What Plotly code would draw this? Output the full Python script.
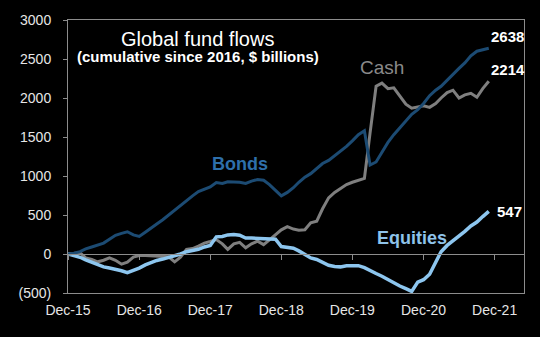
import plotly.graph_objects as go
import pandas as pd

dates = pd.date_range("2015-12-01", periods=72, freq="MS")

bonds = [0, 10, 30, 65, 90, 110, 140, 190, 240, 265, 285, 245,
         225, 280, 330, 385, 440, 500, 570, 630, 690, 745, 800, 835,
         860, 915, 905, 925, 920, 920, 905, 935, 955, 945, 890, 815,
         745, 790, 850, 920, 985, 1030, 1090, 1160, 1200, 1260, 1320, 1380,
         1450, 1530, 1580, 1140, 1180, 1300, 1430, 1530, 1620, 1700, 1790, 1850,
         1930, 2030, 2100, 2150, 2230, 2300, 2380, 2450, 2540, 2600, 2620, 2638]

equities = [0, -20, -42, -75, -105, -140, -165, -180, -195, -215, -240, -215,
            -180, -140, -105, -83, -65, -45, -20, 0, 30, 45, 60, 90,
            110, 220, 225, 245, 250, 240, 205, 205, 200, 200, 200, 190,
            95, 85, 75, 40, -10, -50, -70, -110, -145, -160, -165, -150,
            -145, -150, -175, -215, -250, -285, -330, -370, -410, -445, -480, -360,
            -330, -260, -100, 30, 110, 170, 220, 290, 360, 410, 480, 547]

cash = [0, 10, 15, -50, -70, -100, -80, -50, -80, -130, -105, -40,
        -20, -20, -25, -25, -30, -35, -100, -40, 60, 70, 100, 140,
        160, 185, 130, 60, 130, 150, 80, 130, 165, 120, 180, 250,
        310, 350, 320, 305, 310, 400, 420, 580, 720, 790, 840, 890,
        920, 950, 970, 1550, 2150, 2190, 2120, 2130, 2030, 1920, 1870, 1890,
        1900, 1880, 1930, 2000, 2070, 2100, 2000, 2040, 2060, 2010, 2120, 2214]

year_ticks = pd.date_range("2015-12-01", periods=7, freq="12MS")
year_labels = ["Dec-15", "Dec-16", "Dec-17", "Dec-18", "Dec-19", "Dec-20", "Dec-21"]
y_ticks = [-500, 0, 500, 1000, 1500, 2000, 2500, 3000]
y_labels = ["(500)", "0", "500", "1000", "1500", "2000", "2500", "3000"]

BONDS_C = "#1C4B73"
BONDS_T = "#2E6FAA"
EQ_C = "#8DC6EF"
EQ_T = "#8EC3EA"
CASH_C = "#7F7F7F"
CASH_T = "#8A8A8A"
AX = "#8C8C8C"
FONT = "Liberation Sans, Arial, sans-serif"

xr = ["2015-12-01", "2022-05-01"]

fig = go.Figure()
fig.add_trace(go.Scatter(x=dates, y=bonds, mode="lines", line=dict(color=BONDS_C, width=3), xaxis="x2"))
fig.add_trace(go.Scatter(x=dates, y=cash, mode="lines", line=dict(color=CASH_C, width=3)))
fig.add_trace(go.Scatter(x=dates, y=equities, mode="lines", line=dict(color=EQ_C, width=3.5)))

fig.update_layout(
    width=540, height=337,
    margin=dict(l=68, r=16, t=16, b=44),
    paper_bgcolor="black", plot_bgcolor="black",
    showlegend=False,
    font=dict(family=FONT, color="#E6E6E6", size=14),
    xaxis=dict(range=xr, type="date", tickvals=year_ticks, ticktext=year_labels,
               showgrid=False, zeroline=False, showline=True, linecolor=AX, linewidth=1,
               mirror=True, ticks="", tickfont=dict(size=14, color="#E6E6E6"),
               ticklabelstandoff=4),
    xaxis2=dict(range=xr, type="date", overlaying="x", anchor="free",
                position=500 / 3500, tickvals=year_ticks, showticklabels=False,
                showgrid=False, zeroline=False, showline=True, linecolor=AX, linewidth=1,
                ticks="outside", ticklen=5, tickcolor=AX, tickwidth=1),
    yaxis=dict(range=[-500, 3000], tickvals=y_ticks, ticktext=y_labels,
               showgrid=False, zeroline=False, showline=True, linecolor=AX, linewidth=1,
               mirror=True, ticks="outside", ticklen=4, tickcolor=AX,
               tickfont=dict(size=14, color="#E6E6E6"), ticklabelstandoff=9),
)

fig.add_annotation(xref="paper", yref="paper", x=0.285, y=0.931, xanchor="center",
                   yanchor="middle", text="Global fund flows",
                   showarrow=False, font=dict(size=20, color="white", family=FONT))
fig.add_annotation(xref="paper", yref="paper", x=0.285, y=0.866, xanchor="center",
                   yanchor="middle", text="<b>(cumulative since 2016, $ billions)</b>",
                   showarrow=False, font=dict(size=15, color="white", family=FONT))

fig.add_annotation(x="2018-05-01", y=1155, text="<b>Bonds</b>", showarrow=False,
                   font=dict(size=18, color=BONDS_T, family=FONT))
fig.add_annotation(x="2020-05-01", y=2390, text="Cash", showarrow=False,
                   font=dict(size=19, color=CASH_T, family=FONT))
fig.add_annotation(x="2020-10-01", y=207, text="<b>Equities</b>", showarrow=False,
                   font=dict(size=18, color=EQ_T, family=FONT))

fig.add_annotation(x=dates[-1], y=bonds[-1], text="<b>2638</b>", showarrow=False,
                   xanchor="left", yanchor="bottom", xshift=0, yshift=1,
                   font=dict(size=15, color="white", family=FONT))
fig.add_annotation(x=dates[-1], y=cash[-1], text="<b>2214</b>", showarrow=False,
                   xanchor="left", yanchor="bottom", xshift=0, yshift=1,
                   font=dict(size=15, color="white", family=FONT))
fig.add_annotation(x=dates[-1], y=equities[-1], text="<b>547</b>", showarrow=False,
                   xanchor="left", yanchor="middle", xshift=6,
                   font=dict(size=15, color="white", family=FONT))

fig.write_html("out.html")
